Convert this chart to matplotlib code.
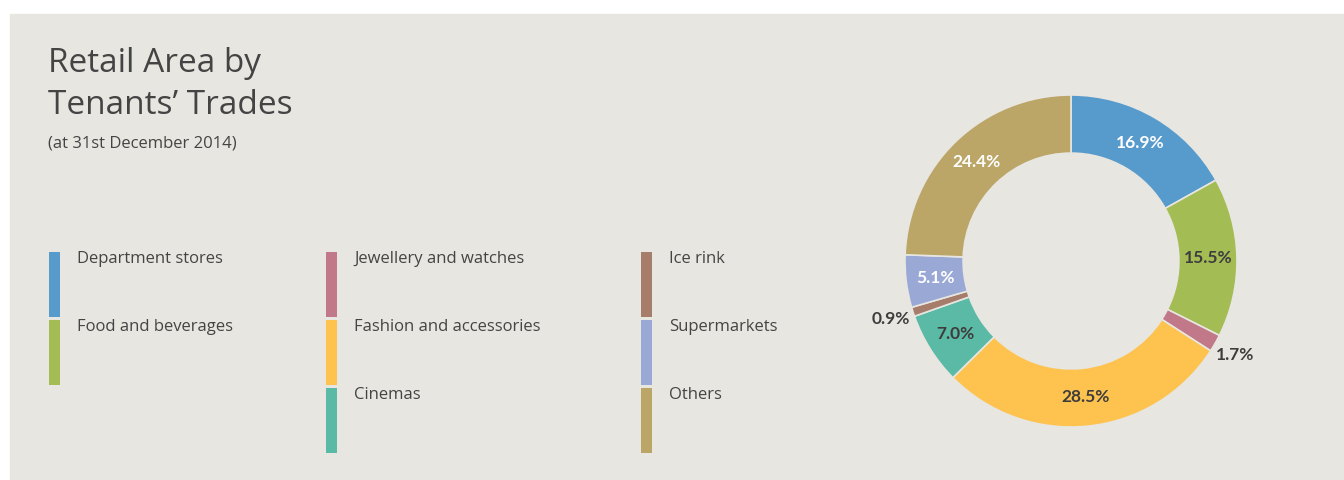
import numpy as np
import matplotlib
matplotlib.use('Agg')
import matplotlib.pyplot as plt
from matplotlib.patches import Rectangle

# data
trades = ['Department stores', 'Food and beverages', 'Jewellery and watches',
          'Fashion and accessories', 'Cinemas', 'Ice rink', 'Supermarkets', 'Others']
shares = [16.9, 15.5, 1.7, 28.5, 7.0, 0.9, 5.1, 24.4]
colors = ['#579bcd', '#a4bc54', '#c17888', '#fec34e', '#5bbaa6', '#a67c6a', '#99a8d5', '#bba567']
label_colors = ['white', '#3d3d3d', '#3d3d3d', '#3d3d3d', '#3d3d3d', '#3d3d3d', 'white', 'white']
outside = [False, False, True, False, False, True, False, False]

# legend layout: columns of trade indices
legend_columns = [[0, 1], [2, 3, 4], [5, 6, 7]]

BG = '#e7e6e0'
TXT = '#444444'
W, H = 1344, 480

plt.rcParams['font.family'] = ['Open Sans', 'DejaVu Sans']

fig = plt.figure(figsize=(W / 100, H / 100), dpi=100, facecolor='white')

# background panel and legend drawn in pixel coordinates
bg = fig.add_axes([0, 0, 1, 1])
bg.set_xlim(0, W)
bg.set_ylim(H, 0)
bg.axis('off')
bg.add_patch(Rectangle((10, 14), W - 10, H - 14, color=BG, zorder=0))

bg.text(48, 63, 'Retail Area by', fontsize=24, color=TXT, va='center', ha='left')
bg.text(48, 105, 'Tenants\u2019 Trades', fontsize=24, color=TXT, va='center', ha='left')
bg.text(48, 144, '(at 31st December 2014)', fontsize=12, color=TXT, va='center', ha='left')

col_x = [49, 326, 641]
row_y0, row_step, bar_h, bar_w = 252, 68, 65, 11
for cx, idxs in zip(col_x, legend_columns):
    for r, i in enumerate(idxs):
        y = row_y0 + r * row_step
        bg.add_patch(Rectangle((cx, y), bar_w, bar_h, color=colors[i], lw=0))
        bg.text(cx + 28, y + 7, trades[i], fontsize=12, color=TXT, va='center', ha='left')

# donut chart
cx, cy, R = 1071, H - 261, 166
half = 1.2 * R
ax = fig.add_axes([(cx - half) / W, (cy - half) / H, 2 * half / W, 2 * half / H])

wedges, _ = ax.pie(shares, colors=colors, startangle=90, counterclock=False,
                   radius=1.0, wedgeprops=dict(width=0.35, edgecolor=BG, linewidth=1.2))
ax.set_xlim(-1.2, 1.2)
ax.set_ylim(-1.2, 1.2)
ax.axis('off')

cum = np.cumsum([0] + shares[:-1])
for i, (start, val) in enumerate(zip(cum, shares)):
    ang = np.deg2rad(90 - (start + val / 2) * 3.6)
    r = 1.14 if outside[i] else 0.825
    ax.text(r * np.cos(ang), r * np.sin(ang), f'{val:.1f}%', ha='center', va='center',
            fontsize=12.5, fontweight='bold', color=label_colors[i],
            family=['Lato', 'DejaVu Sans'])

fig.savefig('out.png', dpi=100, facecolor='white')
